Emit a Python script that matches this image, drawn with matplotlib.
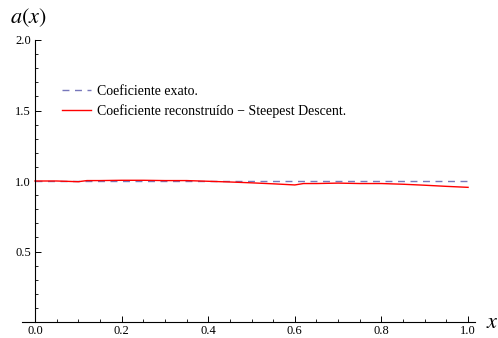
import numpy as np
import matplotlib.pyplot as plt
from matplotlib.ticker import MultipleLocator

plt.rcParams['font.family'] = ['Liberation Serif', 'DejaVu Serif']
plt.rcParams['mathtext.fontset'] = 'stix'

# exact coefficient
x_exact = [0.0, 1.0]
a_exact = [1.0, 1.0]

# reconstructed coefficient
x_rec = [0.0, 0.05, 0.08, 0.10, 0.12, 0.15, 0.20, 0.25, 0.30, 0.35, 0.40,
         0.45, 0.50, 0.55, 0.60, 0.62, 0.65, 0.70, 0.75, 0.80, 0.85, 0.90,
         0.95, 1.00]
a_rec = [1.000, 1.000, 0.997, 0.995, 1.003, 1.003, 1.005, 1.005, 1.003, 1.003,
         0.998, 0.993, 0.987, 0.980, 0.972, 0.982, 0.982, 0.985, 0.982, 0.982,
         0.977, 0.970, 0.962, 0.955]

fig = plt.figure(figsize=(4.98, 3.38), dpi=100)
W, H = 498, 338
ax = fig.add_axes([22 / W, 1 - 322 / H, (475 - 22) / W, (322 - 40) / H])

ax.plot(x_exact, a_exact, color='#7777bb', lw=1.0, ls=(0, (5, 4)),
        label='Coeficiente exato.')
ax.plot(x_rec, a_rec, color='red', lw=1.0,
        label='Coeficiente reconstruído − Steepest Descent.')

ax.set_xlim(-0.03, 1.016)
ax.set_ylim(0, 2.0)

ax.spines['left'].set_position(('data', 0))
ax.spines['right'].set_visible(False)
ax.spines['top'].set_visible(False)

ax.xaxis.set_major_locator(MultipleLocator(0.2))
ax.xaxis.set_minor_locator(MultipleLocator(0.05))
ax.yaxis.set_minor_locator(MultipleLocator(0.1))
ax.set_yticks([0.5, 1.0, 1.5, 2.0])
ax.tick_params(direction='in', which='major', length=4, width=0.7, labelsize=9, pad=3)
ax.tick_params(axis='x', which='major', pad=2)
ax.tick_params(direction='in', which='minor', length=2, width=0.6)
ax.xaxis.set_major_formatter(plt.FuncFormatter(lambda v, p: f'{v:.1f}'))
ax.yaxis.set_major_formatter(plt.FuncFormatter(lambda v, p: f'{v:.1f}'))

fig.text(10 / W, 1 - 18 / H, r'$a(x)$', fontsize=16, va='center', ha='left')
fig.text(486 / W, 1 - 324 / H, r'$x$', fontsize=16, va='center', ha='left')

ax.legend(loc='upper left', bbox_to_anchor=((62 - 22) / 453, (322 - 85) / 282),
          frameon=False, fontsize=10, handlelength=2.1, handletextpad=0.45,
          labelspacing=0.45, borderpad=0, borderaxespad=0)

plt.savefig('out.png', dpi=100)
